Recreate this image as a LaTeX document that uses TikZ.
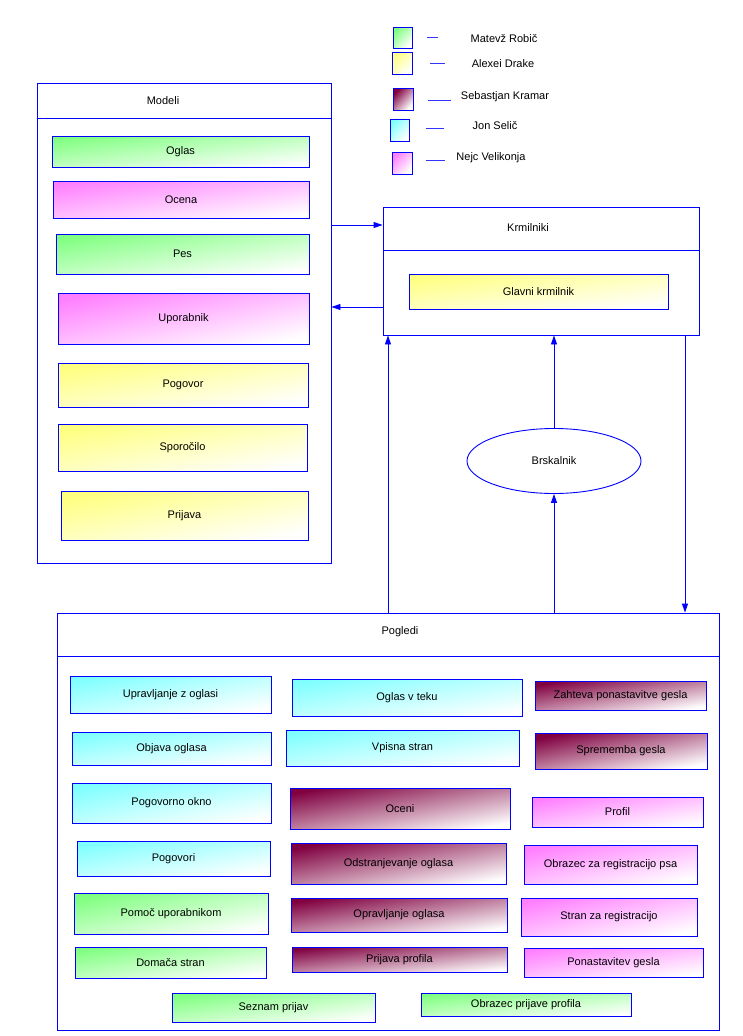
\documentclass[tikz,border=0pt]{standalone}
\usepackage{fontspec}
\setmainfont{Liberation Sans}
\usetikzlibrary{shapes.geometric,arrows.meta,calc}
\definecolor{cgreen}{RGB}{128,255,128}
\definecolor{cyellow}{RGB}{255,255,128}
\definecolor{cmaroon}{RGB}{128,0,64}
\definecolor{ccyan}{RGB}{128,255,255}
\definecolor{cpink}{RGB}{255,128,255}
\definecolor{lblue}{RGB}{0,0,255}
\newcommand\bx[7]{\pgfmathsetmacro\shang{atan((#6-#4)/(#5-#3))}\node[#2, minimum width={(#5-#3)*1pt}, minimum height={(#6-#4)*1pt}] (#1) at ({(#3+#5)/2},{(#4+#6)/2}) {#7};}
\begin{document}
\begin{tikzpicture}[x=1pt,y=-1pt, font=\fontsize{11}{13}\selectfont,
  box/.style={draw=lblue, line width=0.9pt, inner sep=0pt},
  sh/.style={box, top color=#1, bottom color=white, shading angle=\shang},
  cont/.style={draw=lblue, line width=0.9pt, inner sep=0pt, fill=white},
  hline/.style={draw=lblue, line width=0.9pt},
  arr/.style={draw=lblue, line width=0.9pt, -{Triangle[length=9pt,width=6pt]}},
  dash line/.style={draw=lblue!80, line width=0.9pt}]
\fill[white] (0,0) rectangle (742,1036);
\useasboundingbox (0,0) rectangle (742,1036);

% legend
\bx{lg1}{sh=cgreen}{393}{27}{412}{48}{}
\bx{lg2}{sh=cyellow}{392}{52}{412}{74}{}
\bx{lg3}{sh=cmaroon}{393}{88}{413}{110}{}
\bx{lg4}{sh=ccyan}{390}{119}{409}{141}{}
\bx{lg5}{sh=cpink}{392}{152}{412}{174}{}
\draw[dash line] (427,37) -- (438,37);
\draw[dash line] (430,63) -- (445,63);
\draw[dash line] (428,100) -- (451,100);
\draw[dash line] (426,128) -- (444,128);
\draw[dash line] (426,160) -- (445,160);
\node (lt1) at (504,39) {Matevž Robič};
\node (lt2) at (503,64) {Alexei Drake};
\node (lt3) at (505,97) {Sebastjan Kramar};
\node (lt4) at (495,126) {Jon Selič};
\node (lt5) at (491,158) {Nejc Velikonja};

% Modeli
\bx{modeli}{cont}{37}{83}{331}{563}{}
\node (tmod) at (163,101) {Modeli};
\coordinate (hm) at (0,118);
\draw[hline] (modeli.west |- hm) -- (modeli.east |- hm);
\bx{m1}{sh=cgreen}{52}{136}{309}{167}{Oglas}
\bx{m2}{sh=cpink}{53}{181}{309}{218}{Ocena}
\bx{m3}{sh=cgreen}{56}{234}{309}{274}{Pes}
\bx{m4}{sh=cpink}{58}{293}{309}{344}{Uporabnik}
\bx{m5}{sh=cyellow}{58}{363}{308}{407}{Pogovor}
\bx{m6}{sh=cyellow}{58}{424}{307}{471}{Sporočilo}
\bx{m7}{sh=cyellow}{61}{491}{308}{540}{Prijava}

% Krmilniki
\bx{krm}{cont}{383}{207}{699}{335}{}
\node (tkrm) at (528,228) {Krmilniki};
\coordinate (hk) at (0,250);
\draw[hline] (krm.west |- hk) -- (krm.east |- hk);
\bx{k1}{sh=cyellow}{409}{274}{668}{309}{Glavni krmilnik}

% Brskalnik
\node[ellipse, draw=lblue, line width=0.9pt, minimum width=174pt, minimum height=65pt, inner sep=0pt] (brs) at (554,461) {Brskalnik};

% Pogledi
\bx{pog}{cont}{57}{613}{719}{1030}{}
\node (tpog) at (400,632) {Pogledi};
\coordinate (hp) at (0,656);
\draw[hline] (pog.west |- hp) -- (pog.east |- hp);
\bx{p1}{sh=ccyan}{70}{676}{271}{713}{Upravljanje z oglasi}
\bx{p2}{sh=ccyan}{72}{732}{271}{765}{Objava oglasa}
\bx{p3}{sh=ccyan}{72}{783}{271}{823}{Pogovorno okno}
\bx{p4}{sh=ccyan}{77}{841}{270}{876}{Pogovori}
\bx{p5}{sh=cgreen}{74}{893}{268}{934}{Pomoč uporabnikom}
\bx{p6}{sh=cgreen}{75}{947}{266}{978}{Domača stran}
\bx{p7}{sh=cgreen}{172}{993}{375}{1022}{Seznam prijav}
\bx{p8}{sh=cgreen}{421}{993}{631}{1016}{Obrazec prijave profila}
\bx{p9}{sh=ccyan}{292}{679}{522}{716}{Oglas v teku}
\bx{p10}{sh=ccyan}{286}{730}{519}{766}{Vpisna stran}
\bx{p11}{sh=cmaroon}{290}{788}{510}{829}{Oceni}
\bx{p12}{sh=cmaroon}{291}{843}{506}{884}{Odstranjevanje oglasa}
\bx{p13}{sh=cmaroon}{291}{898}{507}{932}{Opravljanje oglasa}
\bx{p14}{sh=cmaroon}{292}{947}{507}{972}{Prijava profila}
\bx{p15}{sh=cmaroon}{535}{681}{706}{710}{Zahteva ponastavitve gesla}
\bx{p16}{sh=cmaroon}{535}{733}{707}{769}{Sprememba gesla}
\bx{p17}{sh=cpink}{532}{797}{703}{827}{Profil}
\bx{p18}{sh=cpink}{524}{845}{697}{884}{Obrazec za registracijo psa}
\bx{p19}{sh=cpink}{521}{898}{697}{936}{Stran za registracijo}
\bx{p20}{sh=cpink}{524}{948}{703}{977}{Ponastavitev gesla}

% connectors
\coordinate (ya) at (0,225);
\coordinate (yb) at (0,307);
\coordinate (xa) at (388,0);
\coordinate (xb) at (685,0);
\draw[arr] (modeli.east |- ya) -- (krm.west |- ya);
\draw[arr] (krm.west |- yb) -- (modeli.east |- yb);
\draw[arr] (pog.north -| xa) -- (krm.south -| xa);
\draw[arr] (krm.south -| xb) -- (pog.north -| xb);
\draw[arr] (brs.north) -- (krm.south -| brs.north);
\draw[arr] (pog.north -| brs.south) -- (brs.south);
\end{tikzpicture}
\end{document}
